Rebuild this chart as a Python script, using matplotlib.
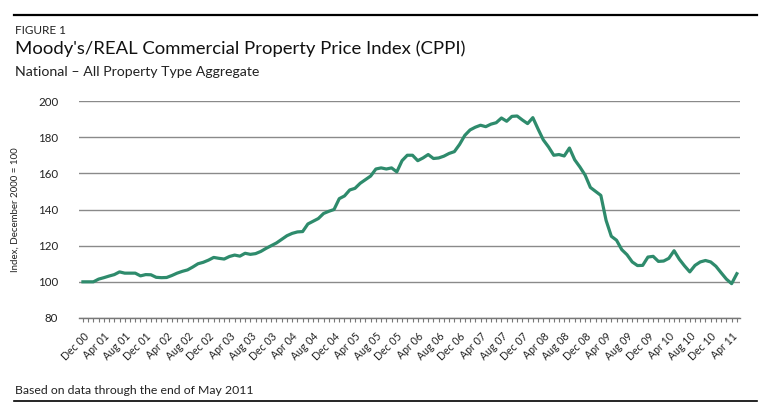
import matplotlib
matplotlib.use("Agg")
import matplotlib.pyplot as plt
from matplotlib.lines import Line2D

plt.rcParams['font.family'] = ['Lato', 'DejaVu Sans']

# Monthly index, Dec 2000 .. May 2011 (Dec 2000 = 100)
months = ["Dec", "Jan", "Feb", "Mar", "Apr", "May", "Jun", "Jul", "Aug", "Sep", "Oct", "Nov"]
cppi = [
    100, 100, 100, 101.5, 102.3, 103.2, 104, 105.5, 104.8, 104.8, 104.8, 103.3,
    104, 103.9, 102.5, 102.3, 102.4, 103.5, 104.8, 105.8, 106.6, 108.2, 110, 110.8,
    112, 113.5, 113, 112.6, 114, 114.8, 114.2, 115.8, 115.2, 115.6, 116.8, 118.5,
    120, 121.5, 123.5, 125.5, 126.8, 127.6, 127.8, 132, 133.5, 135, 137.8, 139,
    140, 146, 147.5, 150.8, 151.7, 154.5, 156.5, 158.5, 162.4, 163, 162.4, 163,
    160.8, 167, 170, 170, 167, 168.5, 170.4, 168.2, 168.5, 169.5, 171, 172,
    176, 181, 184, 185.5, 186.6, 185.8, 187.2, 188, 190.6, 188.8, 191.5, 191.7,
    189.5, 187.5, 190.8, 184.5, 178.5, 174.6, 170, 170.4, 169.6, 174, 167.5, 163.5,
    159, 152.2, 150, 147.8, 134, 125.2, 123, 117.8, 115, 111, 109, 109.1,
    113.7, 114.1, 111.3, 111.5, 113, 117.2, 112.5, 108.8, 105.5, 109.1, 111, 111.8,
    111, 108.6, 105, 101.5, 99, 104.5,
]

# tick labels every 4 months starting Dec 00
tick_idx = list(range(0, len(cppi), 4))
tick_labels = []
for i in tick_idx:
    m = months[i % 12]
    yr = (2000 + (i + 11) // 12) % 100
    tick_labels.append(f"{m} {yr:02d}")

y_ticks = [80, 100, 120, 140, 160, 180, 200]

green = "#2e8b6c"
grid_gray = "#8a8a8a"
text_col = "#222222"

fig = plt.figure(figsize=(7.72, 4.17), dpi=100)
ax = fig.add_axes([79 / 772, 1 - 318 / 417, 661 / 772, 217 / 417])

x = list(range(len(cppi)))
ax.plot(x, cppi, color=green, linewidth=2.3, solid_joinstyle="round", zorder=3)

ax.set_ylim(80, 200)
ax.set_xlim(-0.75, 125.6)
ax.set_yticks(y_ticks)
ax.set_yticklabels([str(v) for v in y_ticks], fontsize=8.3, color=text_col)
ax.yaxis.grid(True, color=grid_gray, linewidth=1.0)
ax.set_axisbelow(True)
ax.tick_params(axis="y", length=0, pad=15)

for s in ["top", "right", "left"]:
    ax.spines[s].set_visible(False)
ax.spines["bottom"].set_color("#777777")
ax.spines["bottom"].set_linewidth(1.0)

ax.set_xticks(x, minor=True)
ax.set_xticks(tick_idx)
ax.set_xticklabels(tick_labels, rotation=45, ha="right", va="top",
                   rotation_mode="anchor", fontsize=7.6, color=text_col)
ax.tick_params(axis="x", which="both", length=3, color="#777777", width=0.8, pad=6)

ax.set_ylabel("Index, December 2000 = 100", fontsize=7, color=text_col, labelpad=13)

# header / footer
fig.text(15 / 772, 1 - 30 / 417, "FIGURE 1", fontsize=8.5, color=text_col, va="center")
fig.text(15 / 772, 1 - 49 / 417, "Moody's/REAL Commercial Property Price Index (CPPI)",
         fontsize=13.3, color="#111111", va="center")
fig.text(15 / 772, 1 - 72 / 417, "National \u2013 All Property Type Aggregate",
         fontsize=10.2, color=text_col, va="center")
fig.text(15 / 772, 1 - 391 / 417, "Based on data through the end of May 2011",
         fontsize=8.8, color=text_col, va="center")

fig.add_artist(Line2D([14 / 772, 757 / 772], [1 - 15 / 417, 1 - 15 / 417],
                      color="black", linewidth=1.6))
fig.add_artist(Line2D([14 / 772, 757 / 772], [1 - 401 / 417, 1 - 401 / 417],
                      color="black", linewidth=1.2))

fig.savefig("out.png", dpi=100)
